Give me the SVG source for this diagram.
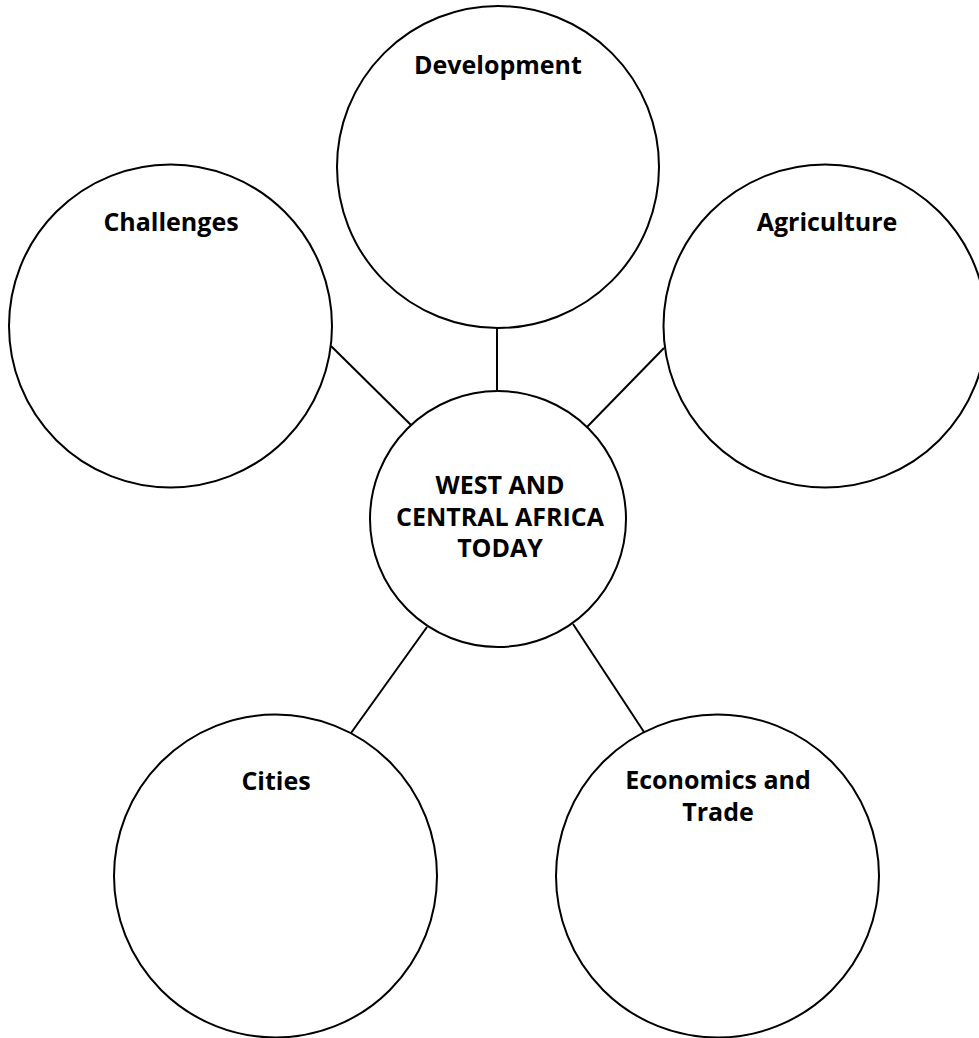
<svg xmlns="http://www.w3.org/2000/svg" width="979" height="1038" viewBox="0 0 979 1038">
<style>
.node{fill:#fff;stroke:#000;stroke-width:2}
.lbl{font-family:"Open Sans","Noto Sans",sans-serif;font-weight:bold;font-size:25px;fill:#000;text-anchor:middle}
.conn{stroke:#000;stroke-width:2;fill:none}
</style>
<rect width="979" height="1038" fill="#fff"/>
<g id="connectors">
<line class="conn" x1="497" y1="328" x2="497" y2="392"/>
<line class="conn" x1="331" y1="346" x2="411" y2="425"/>
<line class="conn" x1="664" y1="348" x2="587" y2="427"/>
<line class="conn" x1="427" y1="627" x2="351" y2="733"/>
<line class="conn" x1="573" y1="624" x2="644" y2="732"/>
</g>
<g id="development">
<circle class="node" cx="498" cy="167" r="161"/>
<text class="lbl" x="498" y="74">Development</text>
</g>
<g id="challenges">
<circle class="node" cx="170.5" cy="326" r="161.5"/>
<text class="lbl" x="171" y="231">Challenges</text>
</g>
<g id="agriculture">
<circle class="node" cx="825" cy="326" r="161.5"/>
<text class="lbl" x="827" y="231">Agriculture</text>
</g>
<g id="center">
<circle class="node" cx="498" cy="519" r="128"/>
<text class="lbl" x="500" y="494">WEST AND</text>
<text class="lbl" x="500" y="525.5">CENTRAL AFRICA</text>
<text class="lbl" x="500" y="557">TODAY</text>
</g>
<g id="cities">
<circle class="node" cx="275.5" cy="876" r="161.5"/>
<text class="lbl" x="276" y="790">Cities</text>
</g>
<g id="economics">
<circle class="node" cx="717.5" cy="876" r="161.5"/>
<text class="lbl" x="718" y="789">Economics and</text>
<text class="lbl" x="718" y="821">Trade</text>
</g>
</svg>
